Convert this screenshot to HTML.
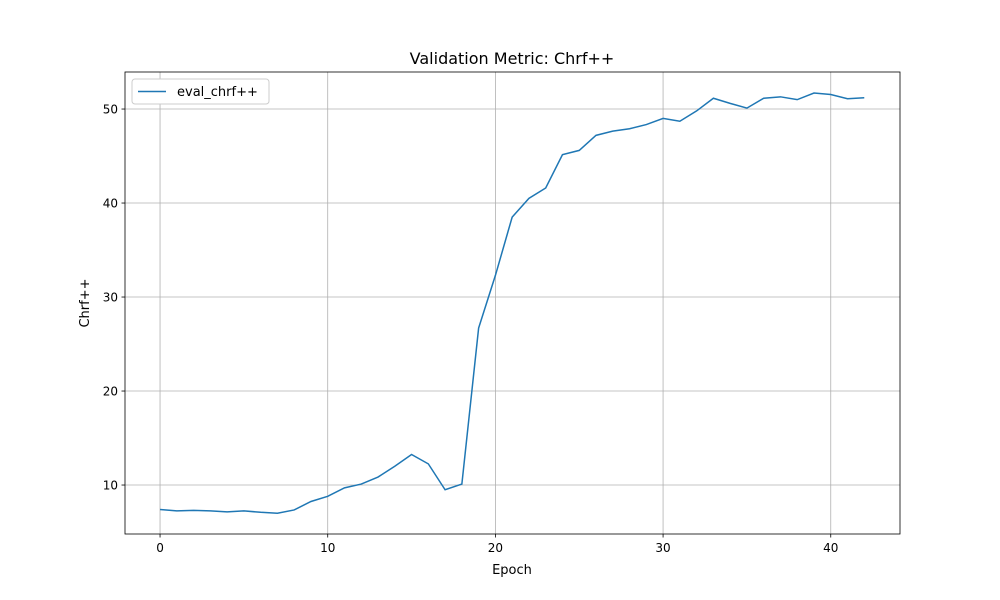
<!DOCTYPE html>
<html><head><meta charset="utf-8"><style>
html,body{margin:0;padding:0;background:#fff;}
svg{display:block;font-family:"DejaVu Sans","Liberation Sans",sans-serif;}
</style></head><body>
<svg id="chart" width="1000" height="600" viewBox="0 0 1000 600">
<rect x="0" y="0" width="1000" height="600" fill="#fff"/>
<g id="grid"></g>
<g id="ticks"></g>
<path id="line" fill="none" stroke="#1f77b4" stroke-width="1.5"/>
<rect x="125" y="72" width="775" height="462" fill="none" stroke="#000" stroke-width="0.8"/>
<text x="512" y="64" text-anchor="middle" font-size="16">Validation Metric: Chrf++</text>
<text x="512" y="574" text-anchor="middle" font-size="13">Epoch</text>
<text x="89" y="303" text-anchor="middle" font-size="13" transform="rotate(-90 89 303)">Chrf++</text>
<g>
<rect x="132" y="79" width="137" height="25" rx="3" fill="#fff" stroke="#ccc" stroke-width="1"/>
<line x1="138" y1="91.5" x2="166" y2="91.5" stroke="#1f77b4" stroke-width="1.5"/>
<text x="177" y="96" font-size="13">eval_chrf++</text>
</g>
</svg>
<script>
const epochs=[0,1,2,3,4,5,6,7,8,9,10,11,12,13,14,15,16,17,18,19,20,21,22,23,24,25,26,27,28,29,30,31,32,33,34,35,36,37,38,39,40,41,42];
const chrfValues=[7.4,7.25,7.3,7.25,7.15,7.25,7.1,7.0,7.35,8.25,8.8,9.7,10.1,10.85,12.0,13.25,12.25,9.5,10.1,26.7,32.3,38.5,40.5,41.6,45.15,45.6,47.2,47.65,47.9,48.35,49.0,48.7,49.8,51.15,50.6,50.1,51.15,51.3,51.0,51.7,51.55,51.1,51.2];
const xTicks=[0,10,20,30,40];
const yTicks=[10,20,30,40,50];
const xMin=-2.09,xMax=44.13,yMin=4.79,yMax=53.94;
const L=125,R=900,T=72,B=534;
const sx=v=>L+(v-xMin)/(xMax-xMin)*(R-L);
const sy=v=>B-(v-yMin)/(yMax-yMin)*(B-T);
const NS="http://www.w3.org/2000/svg";
const grid=document.getElementById('grid'),ticks=document.getElementById('ticks');
function mk(tag,attrs,parent){const e=document.createElementNS(NS,tag);for(const k in attrs)e.setAttribute(k,attrs[k]);parent.appendChild(e);return e;}
xTicks.forEach(t=>{const x=sx(t);
const g=mk('line',{x1:x,x2:x,y1:T,y2:B,stroke:'#b0b0b0','stroke-width':0.8},grid);


const tk=mk('line',{x1:x,x2:x,y1:B,y2:B+3.5,stroke:'#000','stroke-width':0.8},ticks);


const lb=mk('text',{x:x,y:B+18,'text-anchor':'middle','font-size':12},ticks);lb.textContent=t;


});
yTicks.forEach(t=>{const y=sy(t);
const g=mk('line',{x1:L,x2:R,y1:y,y2:y,stroke:'#b0b0b0','stroke-width':0.8},grid);


const tk=mk('line',{x1:L-3.5,x2:L,y1:y,y2:y,stroke:'#000','stroke-width':0.8},ticks);


const lb=mk('text',{x:L-7,y:y+4.5,'text-anchor':'end','font-size':12},ticks);lb.textContent=t;


});
document.getElementById('line').setAttribute('d',epochs.map((e,i)=>(i?'L':'M')+sx(e).toFixed(2)+','+sy(chrfValues[i]).toFixed(2)).join(''));
</script>
</body></html>
